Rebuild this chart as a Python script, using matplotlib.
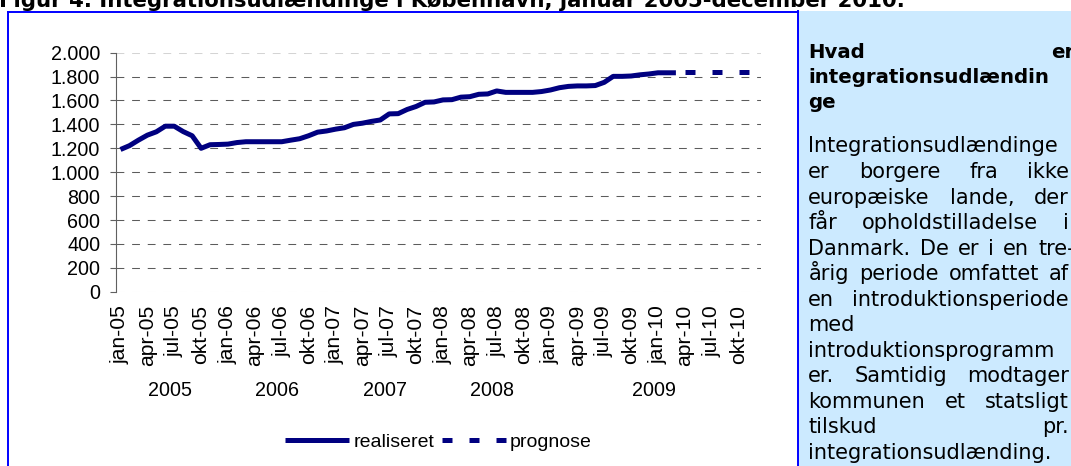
import matplotlib
matplotlib.use("Agg")
import matplotlib.pyplot as plt
from matplotlib.transforms import IdentityTransform
from matplotlib.patches import Rectangle
from matplotlib.lines import Line2D

# ---- data -------------------------------------------------------------
month_names = ["jan", "feb", "mar", "apr", "maj", "jun",
               "jul", "aug", "sep", "okt", "nov", "dec"]
years = [2005, 2006, 2007, 2008, 2009, 2010]

# monthly number of integration immigrants, jan-05 .. mar-10
realiseret = [1190, 1222, 1268, 1310, 1338, 1385, 1385, 1340, 1305, 1200,
              1230, 1232, 1235, 1248, 1255, 1255, 1255, 1255, 1255, 1268,
              1280, 1305, 1335, 1345, 1360, 1372, 1400, 1410, 1425, 1437,
              1488, 1490, 1525, 1550, 1585, 1588, 1605, 1607, 1628, 1632,
              1652, 1655, 1680, 1668, 1668, 1668, 1668, 1675, 1688, 1707,
              1718, 1722, 1722, 1725, 1752, 1802, 1802, 1805, 1815, 1822,
              1832, 1832, 1832]
# forecast apr-10 .. dec-10
prognose = [1840, 1840, 1840, 1840, 1840, 1840, 1840, 1840, 1840]

y_ticks = [0, 200, 400, 600, 800, 1000, 1200, 1400, 1600, 1800, 2000]
y_tick_labels = ["0", "200", "400", "600", "800", "1.000", "1.200",
                 "1.400", "1.600", "1.800", "2.000"]
year_groups = ["2005", "2006", "2007", "2008", "2009"]
year_group_span = [(0, 12), (12, 24), (24, 36), (36, 48), (48, 72)]

title = "Figur 4. Integrationsudlændinge i København, januar 2005-december 2010."
box_heading = [("Hvad er", True), ("integrationsudlændin", False), ("ge", False)]
box_body = [
    ("Integrationsudlændinge", False),
    ("er borgere fra ikke", True),
    ("europæiske lande, der", True),
    ("får opholdstilladelse i", True),
    ("Danmark. De er i en tre-", True),
    ("årig periode omfattet af", True),
    ("en introduktionsperiode", True),
    ("med", False),
    ("introduktionsprogramm", False),
    ("er. Samtidig modtager", True),
    ("kommunen et statsligt", True),
    ("tilskud pr.", True),
    ("integrationsudlænding.", False),
]

# ---- figure -----------------------------------------------------------
W, H = 1071, 466
fig = plt.figure(figsize=(W / 100, H / 100), dpi=100)
fig.patch.set_facecolor("white")

NAVY = "#000080"
BLUE = "#0000ff"
PANEL = "#cceaff"


def px(x, y):
    """figure fraction from pixel coords measured from the top-left"""
    return x / W, 1 - y / H


# frame and side panel
fig.patches.append(Rectangle(px(798, 466), (1071 - 798) / W, (466 - 11) / H,
                             transform=fig.transFigure, facecolor=PANEL,
                             edgecolor="none", zorder=0))
for xs, ys in [((7.5, 798), (11.5, 11.5)), ((7.5, 7.5), (11.5, 470)),
               ((798, 798), (11, 470))]:
    fig.lines.append(Line2D([x / W for x in xs], [1 - y / H for y in ys],
                            transform=fig.transFigure, color=BLUE, lw=1.4))

# title (runs off the top of the page)
fig.text(-1 / W, 1 - 6.7 / H, title, fontsize=15.3, fontweight="bold",
         family="DejaVu Sans", ha="left", va="baseline")

# ---- chart ------------------------------------------------------------
ax_l, ax_r, ax_t, ax_b = 116, 761, 52.7, 291.7
ax = fig.add_axes([ax_l / W, 1 - ax_b / H, (ax_r - ax_l) / W, (ax_b - ax_t) / H])
ax.set_facecolor("none")

n_months = len(years) * 12
x_real = [i + 0.5 for i in range(len(realiseret))]
x_prog = [len(realiseret) + i + 0.5 for i in range(len(prognose))]

for v in y_ticks:
    edge = v in (y_ticks[0], y_ticks[-1])
    ax.axhline(v, color="#d4d4d4" if edge else "#5c5c5c", lw=0.75,
               linestyle=(0, (7.5, 7.5)), zorder=1)

ax.plot(x_real, realiseret, color=NAVY, lw=3.6, solid_joinstyle="round",
        solid_capstyle="butt", label="realiseret", zorder=3)
ax.plot(x_prog, prognose, color=NAVY, lw=3.6, linestyle=(0, (2.0, 3.4)),
        dash_capstyle="butt", label="prognose", zorder=3)

ax.set_xlim(0, n_months)
ax.set_ylim(0, 2000)

ax.set_yticks(y_ticks)
ax.set_yticklabels(y_tick_labels, family="Liberation Sans", fontsize=14.2)
ax.tick_params(axis="y", length=4.3, width=0.8, color="#606060", pad=7)

tick_pos = [i + 0.5 for i in range(0, n_months, 3)]
tick_lab = [f"{month_names[i % 12]}-{str(years[i // 12])[2:]}"
            for i in range(0, n_months, 3)]
ax.set_xticks(tick_pos)
ax.set_xticklabels(tick_lab, rotation=90, family="Liberation Sans",
                   fontsize=15.2)
ax.tick_params(axis="x", length=0, pad=9.6)

for s in ("top", "right", "bottom"):
    ax.spines[s].set_visible(False)
ax.spines["left"].set_color("#606060")
ax.spines["left"].set_linewidth(0.8)

# year group labels below the month labels
for lab, (a, b) in zip(year_groups, year_group_span):
    ax.text((a + b) / 2, (ax_b - 391) / (ax_b - ax_t), lab,
            transform=ax.get_xaxis_transform(), ha="center", va="center",
            family="Liberation Sans", fontsize=14.2)

leg = ax.legend(loc="center", bbox_to_anchor=(0.5, (ax_b - 442) / (ax_b - ax_t)),
                ncol=2, frameon=False, handlelength=3.3, handletextpad=0.2,
                columnspacing=0.4, prop={"family": "Liberation Sans", "size": 14})

# ---- side text box (justified) ----------------------------------------
renderer = fig.canvas.get_renderer()


def draw_line(text, x0, x1, y_top, size, weight, justify):
    words = text.split()
    objs = [fig.text(0, 0, w, transform=IdentityTransform(), fontsize=size,
                     fontweight=weight, family="DejaVu Sans",
                     ha="left", va="baseline") for w in words]
    widths = [o.get_window_extent(renderer).width for o in objs]
    sp = fig.text(0, 0, "a a", fontsize=size, fontweight=weight,
                  family="DejaVu Sans", transform=IdentityTransform())
    sp2 = fig.text(0, 0, "aa", fontsize=size, fontweight=weight,
                   family="DejaVu Sans", transform=IdentityTransform())
    space = sp.get_window_extent(renderer).width - sp2.get_window_extent(renderer).width
    sp.remove()
    sp2.remove()
    if justify and len(words) > 1:
        gap = (x1 - x0 - sum(widths)) / (len(words) - 1)
    else:
        gap = space
    x = x0
    for o, w in zip(objs, widths):
        o.set_position((x, H - y_top))
        x += w + gap


x_left, x_right = 808.3, 1069
for k, (line, just) in enumerate(box_heading):
    draw_line(line, x_left, x_right + 5, 57.5 + k * 25.5, 14.2, "bold", just)
for k, (line, just) in enumerate(box_body):
    right = x_right + (6 if line.endswith("-") else 0)
    draw_line(line, x_left, right, 152.4 + k * 25.55, 15.05, "normal", just)

fig.savefig("out.png", dpi=100)
